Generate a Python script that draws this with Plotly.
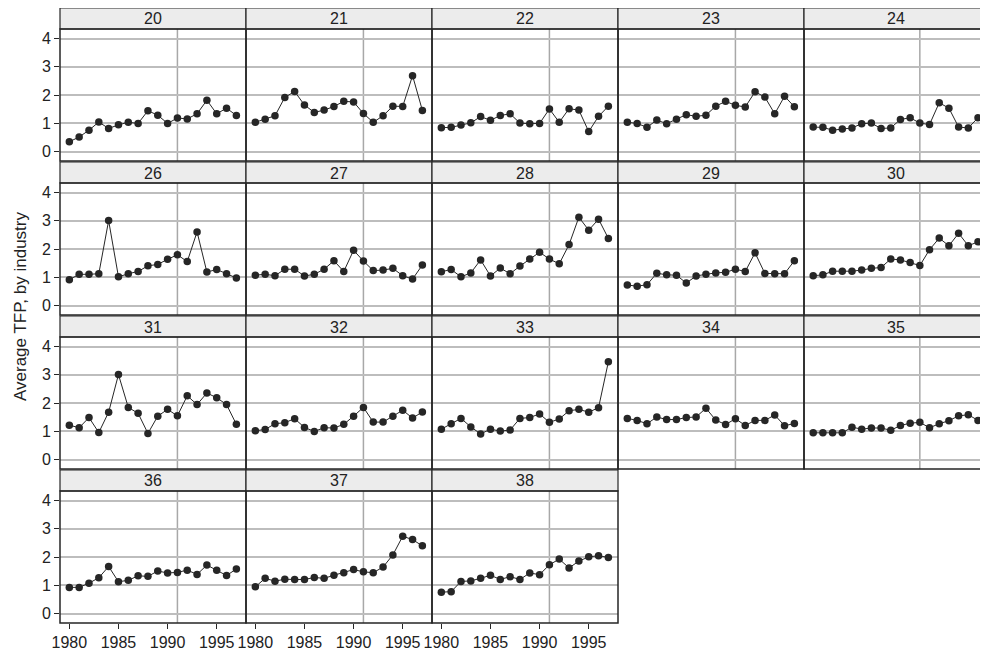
import plotly.graph_objects as go

YEARS = list(range(1980, 1998))
INDUSTRIES = [20, 21, 22, 23, 24, 26, 27, 28, 29, 30, 31, 32, 33, 34, 35, 36, 37, 38]

TFP_20 = [0.35, 0.52, 0.76, 1.05, 0.82, 0.95, 1.04, 1.00, 1.45, 1.29, 1.00, 1.19, 1.16, 1.34, 1.82, 1.34, 1.54, 1.28]
TFP_21 = [1.04, 1.15, 1.27, 1.92, 2.13, 1.65, 1.39, 1.47, 1.60, 1.78, 1.76, 1.35, 1.04, 1.27, 1.61, 1.60, 2.69, 1.46]
TFP_22 = [0.85, 0.86, 0.94, 1.02, 1.24, 1.11, 1.28, 1.34, 1.01, 0.99, 1.00, 1.51, 1.04, 1.52, 1.47, 0.71, 1.25, 1.61]
TFP_23 = [1.04, 1.00, 0.86, 1.12, 0.99, 1.15, 1.31, 1.25, 1.29, 1.61, 1.78, 1.64, 1.58, 2.12, 1.93, 1.34, 1.96, 1.59]
TFP_24 = [0.87, 0.86, 0.76, 0.80, 0.84, 0.99, 1.01, 0.82, 0.84, 1.14, 1.20, 1.01, 0.96, 1.73, 1.54, 0.87, 0.84, 1.20]
TFP_26 = [0.92, 1.11, 1.11, 1.13, 3.01, 1.02, 1.13, 1.21, 1.41, 1.46, 1.64, 1.80, 1.56, 2.61, 1.19, 1.28, 1.13, 0.98]
TFP_27 = [1.08, 1.11, 1.06, 1.29, 1.29, 1.05, 1.11, 1.29, 1.59, 1.21, 1.96, 1.58, 1.24, 1.26, 1.32, 1.06, 0.94, 1.44]
TFP_28 = [1.20, 1.28, 1.02, 1.16, 1.62, 1.05, 1.33, 1.13, 1.40, 1.65, 1.89, 1.65, 1.48, 2.16, 3.13, 2.67, 3.06, 2.38]
TFP_29 = [0.73, 0.69, 0.74, 1.15, 1.09, 1.08, 0.80, 1.05, 1.11, 1.16, 1.18, 1.29, 1.21, 1.87, 1.14, 1.13, 1.13, 1.59]
TFP_30 = [1.06, 1.09, 1.22, 1.22, 1.22, 1.26, 1.32, 1.35, 1.65, 1.62, 1.53, 1.42, 1.98, 2.39, 2.12, 2.56, 2.12, 2.26]
TFP_31 = [1.22, 1.13, 1.49, 0.96, 1.68, 3.01, 1.85, 1.64, 0.93, 1.54, 1.78, 1.55, 2.26, 1.95, 2.36, 2.19, 1.95, 1.25]
TFP_32 = [1.02, 1.07, 1.27, 1.31, 1.45, 1.14, 1.00, 1.13, 1.12, 1.25, 1.54, 1.85, 1.33, 1.33, 1.54, 1.75, 1.47, 1.69]
TFP_33 = [1.08, 1.27, 1.46, 1.16, 0.91, 1.08, 1.01, 1.05, 1.46, 1.49, 1.62, 1.32, 1.44, 1.73, 1.78, 1.68, 1.84, 3.46]
TFP_34 = [1.46, 1.39, 1.27, 1.51, 1.42, 1.42, 1.49, 1.51, 1.82, 1.40, 1.24, 1.45, 1.21, 1.39, 1.39, 1.58, 1.20, 1.28]
TFP_35 = [0.95, 0.95, 0.95, 0.95, 1.15, 1.08, 1.12, 1.12, 1.04, 1.21, 1.29, 1.32, 1.13, 1.27, 1.38, 1.55, 1.59, 1.39]
TFP_36 = [0.93, 0.93, 1.08, 1.27, 1.67, 1.13, 1.18, 1.34, 1.32, 1.51, 1.44, 1.46, 1.54, 1.39, 1.72, 1.54, 1.35, 1.58]
TFP_37 = [0.95, 1.25, 1.15, 1.22, 1.21, 1.21, 1.28, 1.25, 1.36, 1.45, 1.56, 1.48, 1.45, 1.65, 2.08, 2.74, 2.62, 2.40]
TFP_38 = [0.76, 0.78, 1.14, 1.16, 1.25, 1.36, 1.21, 1.31, 1.21, 1.44, 1.38, 1.73, 1.93, 1.62, 1.86, 2.01, 2.05, 1.99]

SERIES = {20: TFP_20, 21: TFP_21, 22: TFP_22, 23: TFP_23, 24: TFP_24,
          26: TFP_26, 27: TFP_27, 28: TFP_28, 29: TFP_29, 30: TFP_30,
          31: TFP_31, 32: TFP_32, 33: TFP_33, 34: TFP_34, 35: TFP_35,
          36: TFP_36, 37: TFP_37, 38: TFP_38}

X_TICKS = [1980, 1985, 1990, 1995]
Y_TICKS = [0, 1, 2, 3, 4]
REF_YEAR = 1991
Y_TITLE = "Average TFP, by industry"

# window size and page offset (default body margin of the html page)
WIN_W, WIN_H = 988, 653
OFF = 8
W, H = WIN_W - OFF, WIN_H - OFF
LEFT, PW = 60, 186
TOP0, STRIP, PH, ROWSTEP = 8, 21, 132, 154
NCOL = 5
FONT = "Liberation Sans, Arial, sans-serif"
INK = "#262626"
TXT = "#222222"

def px(x):
    return (x - OFF) / W

def py(y):
    return 1 - (y - OFF) / H

fig = go.Figure()
layout = dict(template="none", width=W, height=H, margin=dict(l=0, r=0, t=0, b=0, pad=0),
              paper_bgcolor="white", plot_bgcolor="white", showlegend=False,
              font=dict(family=FONT, size=16, color=TXT))
shapes, annotations = [], []
nrows = (len(INDUSTRIES) + NCOL - 1) // NCOL

for i, ind in enumerate(INDUSTRIES):
    r, c = divmod(i, NCOL)
    n = i + 1
    sfx = "" if n == 1 else str(n)
    x0 = LEFT + c * PW
    x1 = min(x0 + PW, WIN_W - 0.5)
    stop = TOP0 + r * ROWSTEP
    ptop = stop + STRIP
    pbot = ptop + PH
    bottom_row = (r == nrows - 1)
    layout["xaxis" + sfx] = dict(
        domain=[px(x0), px(x1)], anchor="y" + sfx, range=[1979.05, 1997.98],
        tickvals=X_TICKS, showgrid=False, zeroline=False, automargin=False,
        showticklabels=bottom_row, ticks="outside" if bottom_row else "",
        ticklen=5, tickwidth=1, tickcolor=INK,
        tickfont=dict(family=FONT, size=16, color=TXT), showline=False)
    layout["yaxis" + sfx] = dict(
        domain=[py(pbot), py(ptop)], anchor="x" + sfx, range=[-0.33, 4.34],
        tickvals=Y_TICKS, showgrid=True, gridcolor="#bdbdbd", gridwidth=1.5,
        zeroline=False, automargin=False,
        showticklabels=(c == 0), ticks="outside" if c == 0 else "",
        ticklen=5, tickwidth=1, tickcolor=INK,
        tickfont=dict(family=FONT, size=16, color=TXT), showline=False)
    shapes.append(dict(type="line", xref="x" + sfx, yref="y" + sfx + " domain",
                       x0=REF_YEAR, x1=REF_YEAR, y0=0, y1=1,
                       line=dict(color="#a8a8a8", width=1.5), layer="below"))
    shapes.append(dict(type="rect", xref="paper", yref="paper",
                       x0=px(x0), x1=px(x1), y0=py(ptop), y1=py(stop),
                       fillcolor="#ececec", line=dict(color=INK, width=1.2)))
    shapes.append(dict(type="rect", xref="paper", yref="paper",
                       x0=px(x0), x1=px(x1), y0=py(pbot), y1=py(ptop),
                       fillcolor="rgba(0,0,0,0)", line=dict(color=INK, width=1.5),
                       layer="above"))
    annotations.append(dict(text=str(ind), xref="paper", yref="paper",
                            x=px((x0 + x1) / 2), y=py(stop + STRIP / 2 + 0.5),
                            showarrow=False, xanchor="center", yanchor="middle",
                            font=dict(family=FONT, size=16, color=TXT)))
    fig.add_trace(go.Scatter(x=YEARS, y=SERIES[ind], mode="lines+markers",
                             xaxis="x" + sfx, yaxis="y" + sfx,
                             line=dict(color=INK, width=1),
                             marker=dict(color=INK, size=7.5),
                             cliponaxis=False))

annotations.append(dict(text=Y_TITLE, xref="paper", yref="paper",
                        x=px(20), y=py(307),
                        textangle=-90, showarrow=False, xanchor="center", yanchor="middle",
                        font=dict(family=FONT, size=17, color=TXT)))

layout["shapes"] = shapes
layout["annotations"] = annotations
fig.update_layout(**layout)
fig.write_html("out.html")
